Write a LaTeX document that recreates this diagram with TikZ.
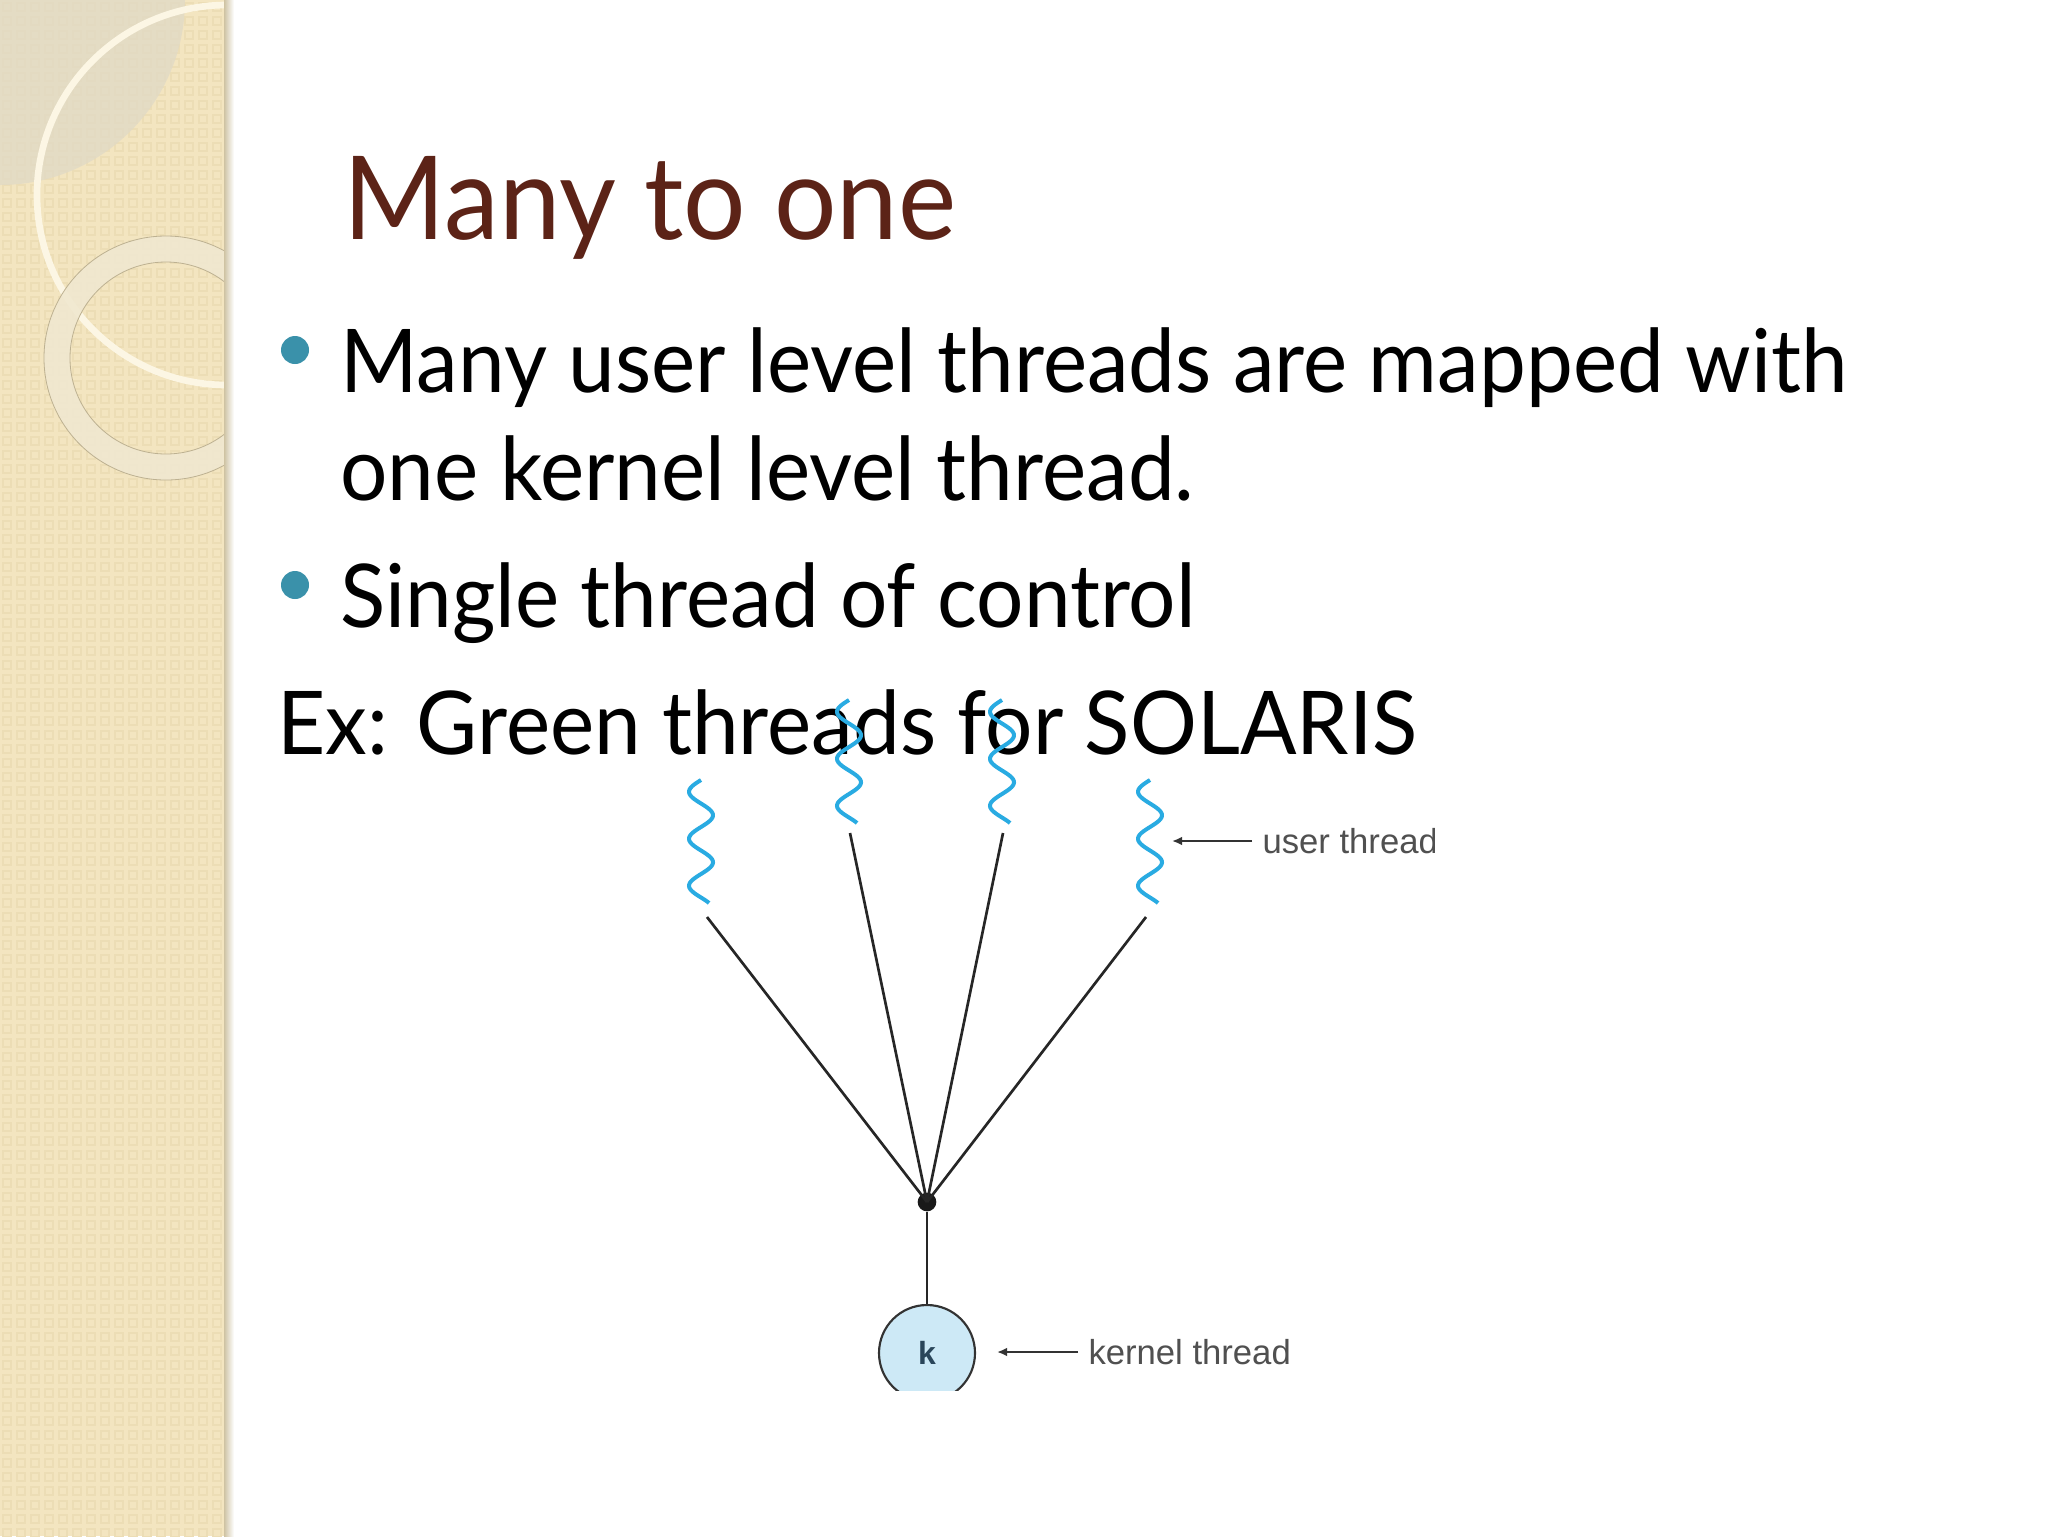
\documentclass[tikz,border=0pt]{standalone}
\usepackage{fontspec}
\setmainfont[FakeStretch=0.95]{Lato}
\newfontfamily\labelfont{Liberation Sans}
\usetikzlibrary{arrows.meta}

\definecolor{stripbg}{RGB}{243,229,192}
\definecolor{stripdot}{RGB}{236,221,181}
\definecolor{leafgray}{RGB}{224,217,198}
\definecolor{ringcream}{RGB}{240,232,208}
\definecolor{titlebrown}{RGB}{92,35,23}
\definecolor{bulletteal}{RGB}{58,145,170}
\definecolor{threadblue}{RGB}{41,171,226}
\definecolor{kernelfill}{RGB}{205,233,246}
\definecolor{labelgray}{RGB}{80,80,80}
\definecolor{kernelink}{RGB}{42,70,90}

\tikzset{every picture/.style={line width=0.75pt}}
\tikzset{
  slidetext/.style={anchor=base west, inner sep=0pt, font=\fontsize{66}{79}\selectfont},
  bulletdot/.style={circle, fill=bulletteal, minimum size=21pt, inner sep=0pt},
  uthread/.style={draw=threadblue, line width=3pt},
  mapline/.style={draw=black!85, line width=2pt},
  junction/.style={circle, fill=black!90, minimum size=14pt, inner sep=0pt},
  kernel/.style={circle, draw=black!80, fill=kernelfill, line width=1.6pt, minimum size=72pt, inner sep=0pt, text=kernelink, font=\labelfont\bfseries\fontsize{24}{24}\selectfont},
  callout/.style={draw=black!80, line width=1.8pt, -{Latex[length=7.5pt,width=6.5pt]}},
  calloutlabel/.style={anchor=west, inner xsep=7.5pt, inner ysep=0pt, text=labelgray, font=\labelfont\fontsize{26}{30}\selectfont},
}

\begin{document}
\begin{tikzpicture}[x=0.75pt,y=0.75pt,yscale=-1,xscale=1]
\useasboundingbox (0,0) rectangle (2048,1536);
\fill[white] (0,0) rectangle (2048,1536);

%Shape: Side strip
\begin{scope}
\clip (0,0) rectangle (227,1536);
\fill[stripbg] (0,0) rectangle (227,1536);
\foreach \i in {0,...,16}
  \foreach \j in {0,...,110}
    \draw[stripdot, line width=1pt] (\i*14+3,\j*14+3) rectangle ++(8,8);
\fill[leafgray, opacity=0.75] (0,0) circle [radius=185];
\draw[color={rgb,255:red,252;green,246;blue,228}, line width=5pt] (227,195) circle [radius=190];
\fill[ringcream, opacity=0.9, even odd rule] (166,358) circle [radius=122] (166,358) circle [radius=96];
\draw[stripdot!80!black, line width=0.6pt] (166,358) circle [radius=122] (166,358) circle [radius=96];
\end{scope}
\shade[left color=stripbg!85!black, right color=white] (224,0) rectangle (234,1536);

% Text Node
\node[anchor=base west, inner sep=0pt, text=titlebrown, font=\fontsize{87}{100}\selectfont] (title) at (343,239) {Many to one};
\node[bulletdot] (b1) at (295,350) {};
\node[slidetext] (line1) at (340,392) {Many user level threads are mapped with};
\node[slidetext] (line2) at (340,500) {one kernel level thread.};
\node[bulletdot] (b2) at (295,585) {};
\node[slidetext] (line3) at (340,627) {Single thread of control};
\node[slidetext] (line4) at (277,754) {Ex: Green threads for SOLARIS};

% Diagram
\begin{scope}
\clip (600,680) rectangle (1434,1390);
%Shape: Wave [user threads]
\draw[uthread] plot[variable=\t, domain=0:123, samples=80, smooth] ({701-12*sin(\t*7.66)},{780+\t});
\draw[uthread] plot[variable=\t, domain=0:123, samples=80, smooth] ({849-12*sin(\t*7.66)},{700+\t});
\draw[uthread] plot[variable=\t, domain=0:123, samples=80, smooth] ({1002-12*sin(\t*7.66)},{700+\t});
\draw[uthread] plot[variable=\t, domain=0:123, samples=80, smooth] ({1150-12*sin(\t*7.66)},{780+\t});

\coordinate (u1) at (707,917);
\coordinate (u2) at (850,833);
\coordinate (u3) at (1003,833);
\coordinate (u4) at (1146,917);
\node[junction] (j) at (927,1202) {};
\node[kernel] (k) at (927,1353) {k};

%Straight Lines
\draw[mapline] (u1) -- (j.center);
\draw[mapline] (u2) -- (j.center);
\draw[mapline] (u3) -- (j.center);
\draw[mapline] (u4) -- (j.center);
\draw[mapline] (j) -- (k);

% Callouts
\coordinate (ut) at (1172,841);
\node[calloutlabel] (ulab) at (1252,841) {user thread};
\draw[callout] (ulab.west) -- (ut);
\coordinate (kt) at (997,1352);
\node[calloutlabel] (klab) at (1078,1352) {kernel thread};
\draw[callout] (klab.west) -- (kt);
\end{scope}

\end{tikzpicture}
\end{document}
